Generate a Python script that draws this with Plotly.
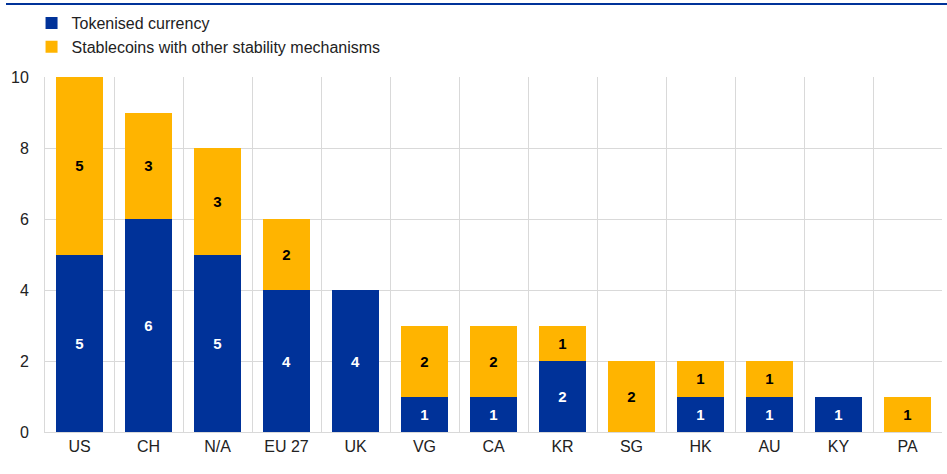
import plotly.graph_objects as go

categories = ["US", "CH", "N/A", "EU 27", "UK", "VG", "CA", "KR", "SG", "HK", "AU", "KY", "PA"]
tokenised = [5, 6, 5, 4, 4, 1, 1, 2, 0, 1, 1, 1, 0]
stablecoins = [5, 3, 3, 2, 0, 2, 2, 1, 2, 1, 1, 0, 1]

BLUE = "#003299"
YELLOW = "#FFB400"

def labels(vals):
    return [str(v) if v else "" for v in vals]

fig = go.Figure()
fig.add_trace(go.Bar(
    x=categories, y=[v if v else None for v in tokenised], name="Tokenised currency",
    marker=dict(color=BLUE, line=dict(width=0)),
    text=labels(tokenised), textposition="inside", insidetextanchor="middle",
    textfont=dict(color="white", size=15, family="Liberation Sans"),
    texttemplate="<b>%{text}</b>",
))
fig.add_trace(go.Bar(
    x=categories, y=[v if v else None for v in stablecoins], name="Stablecoins with other stability mechanisms",
    marker=dict(color=YELLOW, line=dict(width=0)),
    text=labels(stablecoins), textposition="inside", insidetextanchor="middle",
    textfont=dict(color="black", size=15, family="Liberation Sans"),
    texttemplate="<b>%{text}</b>",
))

L, R, T, B = 45, 5, 77, 42
W, H = 947, 474
plot_h = H - T - B
plot_w = W - L - R

fig.update_layout(
    width=W, height=H,
    barmode="stack", bargap=0.33,
    plot_bgcolor="white", paper_bgcolor="white",
    margin=dict(l=L, r=R, t=T, b=B, autoexpand=False),
    font=dict(family="Liberation Sans, Arial, sans-serif", size=16, color="#222"),
    uniformtext=dict(minsize=15, mode="show"),
    showlegend=True,
    legend=dict(
        x=-0.015, y=1 + (T - 6) / plot_h, xanchor="left", yanchor="top",
        traceorder="normal",
        font=dict(size=16, color="#222"), itemwidth=30, tracegroupgap=0,
        bgcolor="rgba(0,0,0,0)",
    ),
    xaxis=dict(
        type="category", tickson="boundaries", showgrid=True, gridcolor="#d9d9d9", gridwidth=1,
        ticks="", showline=True, linecolor="#d9d9d9", linewidth=1,
        tickfont=dict(size=16, color="#222"), range=[-0.5, 12.5],
    ),
    yaxis=dict(
        range=[0, 10], dtick=2, showgrid=True, gridcolor="#d9d9d9", gridwidth=1,
        ticks="", showline=True, linecolor="#d9d9d9", zeroline=False,
        tickfont=dict(size=16, color="#222"), ticklabelstandoff=12,
    ),
    shapes=[dict(
        type="line", xref="paper", yref="paper",
        x0=-(L - 6) / plot_w, x1=1 + R / plot_w,
        y0=1 + (T - 4) / plot_h, y1=1 + (T - 4) / plot_h,
        line=dict(color=BLUE, width=2),
    )],
)

fig.write_html(
    "out.html",
    config={"displayModeBar": False},
    post_script="document.body.style.margin='0';document.body.style.overflow='hidden';",
)
